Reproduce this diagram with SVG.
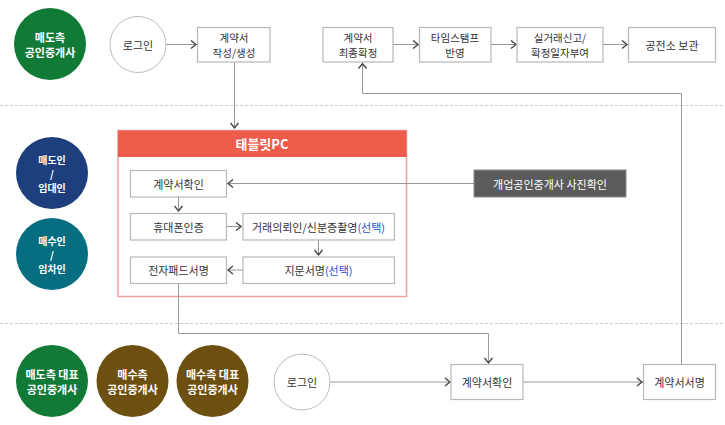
<svg xmlns="http://www.w3.org/2000/svg" width="725" height="425" viewBox="0 0 725 425">
<defs>
<marker id="arr" markerWidth="8" markerHeight="10" refX="6" refY="5" orient="auto" markerUnits="userSpaceOnUse">
<path d="M1,1 L6,5 L1,9" fill="none" stroke="#444" stroke-width="1.4"/>
</marker>
<style>
text{font-family:"Noto Sans CJK KR","Noto Sans",sans-serif;text-anchor:middle;dominant-baseline:central}
.box{fill:#fff;stroke:#b8b8b8;stroke-width:1.2}
.t{font-size:11px;fill:#333}
.t2{font-size:10.5px;fill:#333}
.ct{font-size:11px;fill:#fff;font-weight:bold}
.ct2{font-size:10px;fill:#fff;font-weight:bold}
.ln{fill:none;stroke:#999;stroke-width:1}
.dash{stroke:#ccc;stroke-width:1;stroke-dasharray:3,2}
</style>
</defs>
<rect width="725" height="425" fill="#fff"/>
<line class="dash" x1="0" y1="105.5" x2="725" y2="105.5"/>
<line class="dash" x1="0" y1="323.5" x2="725" y2="323.5"/>

<g id="tablet">
<rect x="118" y="130.5" width="288.5" height="166" fill="#fff" stroke="#e9a29a" stroke-width="1.5"/>
<rect x="118" y="130.5" width="288.5" height="26.5" fill="#ee5c4b"/>
<text x="262" y="143.5" style="font-size:13px;font-weight:bold;fill:#fff">태블릿PC</text>
</g>

<g id="connectors">
<path class="ln" d="M166,44.5 H196" marker-end="url(#arr)"/>
<path class="ln" d="M234.5,62 V128" marker-end="url(#arr)"/>
<path class="ln" d="M393,44.5 H418" marker-end="url(#arr)"/>
<path class="ln" d="M491,44.5 H516" marker-end="url(#arr)"/>
<path class="ln" d="M603,44.5 H627" marker-end="url(#arr)"/>
<path class="ln" d="M474,183.5 H228" marker-end="url(#arr)"/>
<path class="ln" d="M178.5,197 V211" marker-end="url(#arr)"/>
<path class="ln" d="M227,226.5 H241" marker-end="url(#arr)"/>
<path class="ln" d="M318.5,240 V255" marker-end="url(#arr)"/>
<path class="ln" d="M243,270 H228" marker-end="url(#arr)"/>
<path class="ln" d="M178.5,283 V333.5 H488.5 V363" marker-end="url(#arr)"/>
<path class="ln" d="M330,382 H450" marker-end="url(#arr)"/>
<path class="ln" d="M523,382 H642" marker-end="url(#arr)"/>
<path class="ln" d="M681.5,364 V93.5 H362.5 V63.5" marker-end="url(#arr)"/>
</g>

<g id="seller-agent"><circle cx="50" cy="44" r="36" fill="#117a36"/><text class="ct" x="50" y="37">매도측</text><text class="ct" x="50" y="52">공인중개사</text></g>
<g id="login-top"><circle cx="138" cy="44.5" r="28" fill="#fff" stroke="#bbb" stroke-width="1"/><text class="t" x="138" y="44.5">로그인</text></g>
<g id="draft"><rect class="box" x="197.5" y="27.5" width="72.5" height="34.5"/><text class="t2" x="234" y="37">계약서</text><text class="t2" x="234" y="52.5">작성/생성</text></g>
<g id="finalize"><rect class="box" x="323" y="27.5" width="70" height="34.5"/><text class="t2" x="358" y="37">계약서</text><text class="t2" x="358" y="52.5">최종확정</text></g>
<g id="timestamp"><rect class="box" x="419.5" y="27.5" width="71.5" height="34.5"/><text class="t2" x="455" y="37">타임스탬프</text><text class="t2" x="455" y="52.5">반영</text></g>
<g id="report"><rect class="box" x="517" y="27.5" width="86" height="34.5"/><text class="t2" x="560" y="37">실거래신고/</text><text class="t2" x="560" y="52.5">확정일자부여</text></g>
<g id="archive"><rect class="box" x="628.5" y="27.5" width="87" height="34.5"/><text class="t" x="672" y="44.5">공전소 보관</text></g>

<g id="seller"><circle cx="52" cy="173" r="36" fill="#1e3f7e"/><text class="ct2" x="52" y="159">매도인</text><text class="ct2" x="52" y="173">/</text><text class="ct2" x="52" y="187">임대인</text></g>
<g id="buyer"><circle cx="52" cy="254" r="36" fill="#066e80"/><text class="ct2" x="52" y="240">매수인</text><text class="ct2" x="52" y="254">/</text><text class="ct2" x="52" y="268">임차인</text></g>

<g id="check"><rect class="box" x="130.5" y="170.5" width="96" height="26.5"/><text class="t" x="178.5" y="183.5">계약서확인</text></g>
<g id="phone"><rect class="box" x="130.5" y="213.5" width="96" height="26.5"/><text class="t" x="178.5" y="226.5">휴대폰인증</text></g>
<g id="idphoto"><rect class="box" x="243" y="213.5" width="151.5" height="26.5"/><text class="t" x="318.5" y="226.5">거래의뢰인/신분증촬영<tspan fill="#1d4fd6">(선택)</tspan></text></g>
<g id="epad"><rect class="box" x="130.5" y="257" width="96" height="26.5"/><text class="t" x="178.5" y="270">전자패드서명</text></g>
<g id="finger"><rect class="box" x="243" y="257" width="151.5" height="26.5"/><text class="t" x="318.5" y="270">지문서명<tspan fill="#1d4fd6">(선택)</tspan></text></g>
<g id="photo-check"><rect x="474" y="170" width="152" height="27" fill="#5b5b5b" stroke="#8a8a8a" stroke-width="1"/><text x="550" y="183.5" style="font-size:11px;fill:#fff">개업공인중개사 사진확인</text></g>

<g id="seller-rep"><circle cx="52" cy="381" r="36" fill="#117a36"/><text class="ct" x="52" y="374">매도측 대표</text><text class="ct" x="52" y="389">공인중개사</text></g>
<g id="buyer-agent"><circle cx="132.5" cy="381" r="36" fill="#6d5010"/><text class="ct" x="132.5" y="374">매수측</text><text class="ct" x="132.5" y="389">공인중개사</text></g>
<g id="buyer-rep"><circle cx="212.5" cy="381" r="36" fill="#6d5010"/><text class="ct" x="212.5" y="374">매수측 대표</text><text class="ct" x="212.5" y="389">공인중개사</text></g>
<g id="login-bottom"><circle cx="302" cy="382" r="28" fill="#fff" stroke="#bbb" stroke-width="1"/><text class="t" x="302" y="382">로그인</text></g>
<g id="check2"><rect class="box" x="451" y="364.5" width="72" height="35"/><text class="t" x="487" y="382">계약서확인</text></g>
<g id="sign"><rect class="box" x="643.5" y="364.5" width="72" height="35"/><text class="t" x="679.5" y="382">계약서서명</text></g>
</svg>
